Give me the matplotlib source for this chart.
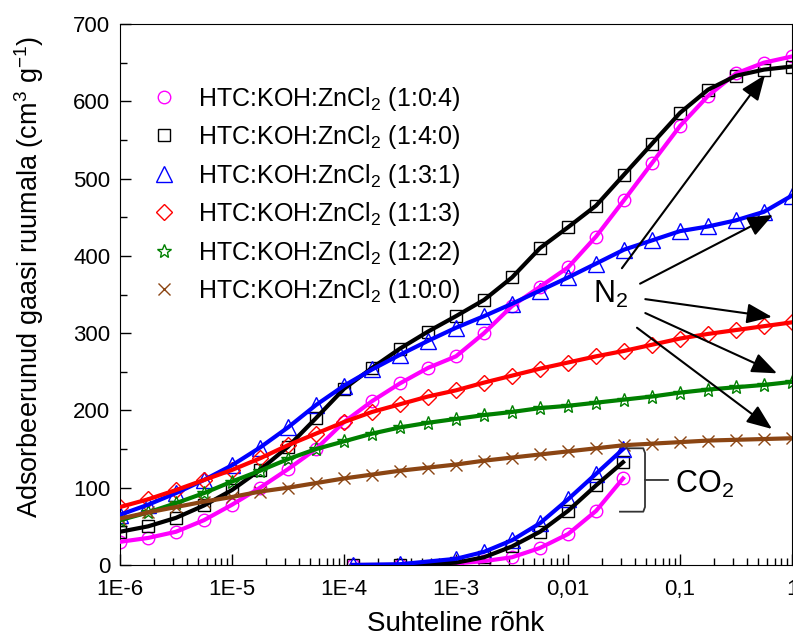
import matplotlib
matplotlib.use("Agg")
import matplotlib.pyplot as plt
from matplotlib.ticker import MultipleLocator, LogLocator, NullFormatter

plt.rcParams["font.family"] = ["Liberation Sans", "DejaVu Sans"]
plt.rcParams["mathtext.default"] = "regular"

# N2 isotermid, suhteline rohk (veerand dekaadi samm)
p_n2 = [1e-6, 1.78e-6, 3.16e-6, 5.62e-6,
        1e-5, 1.78e-5, 3.16e-5, 5.62e-5,
        1e-4, 1.78e-4, 3.16e-4, 5.62e-4,
        1e-3, 1.78e-3, 3.16e-3, 5.62e-3,
        1e-2, 1.78e-2, 3.16e-2, 5.62e-2,
        0.1, 0.178, 0.316, 0.562, 1.0]
n2_104 = [30, 35, 43, 58, 78, 100, 124, 150, 185, 212, 235, 255, 270,
          300, 335, 360, 385, 425, 472, 520, 568, 607, 636, 650, 658]
n2_140 = [43, 50, 61, 77, 97, 123, 153, 190, 228, 255, 280, 302, 322,
          343, 372, 410, 437, 465, 505, 545, 585, 615, 633, 641, 645]
n2_131 = [65, 78, 93, 110, 129, 152, 178, 207, 232, 253, 272, 290, 307,
          322, 338, 355, 372, 390, 408, 420, 432, 438, 446, 457, 478]
n2_113 = [75, 85, 97, 110, 123, 138, 155, 170, 185, 198, 208, 218, 226,
          236, 245, 254, 262, 270, 277, 285, 293, 299, 304, 309, 314]
n2_122 = [58, 68, 80, 93, 108, 122, 137, 150, 160, 170, 178, 184, 189,
          194, 198, 203, 206, 210, 214, 218, 223, 227, 230, 233, 237]
n2_100 = [60, 68, 75, 82, 88, 95, 100, 106, 112, 117, 122, 126, 130,
          135, 139, 143, 147, 151, 155, 157, 159, 161, 162, 163, 164]

# CO2 isotermid (ainult 3 proovi)
p_co2 = [1.2e-4, 3.16e-4, 1e-3, 1.78e-3, 3.16e-3, 5.62e-3, 1e-2, 1.78e-2, 3.1e-2]
co2_104 = [0, 0, 2, 5, 10, 22, 40, 70, 112]
co2_140 = [0, 0, 3, 10, 24, 43, 70, 103, 133]
co2_131 = [0, 1, 8, 17, 32, 54, 85, 118, 150]

labels = ["HTC:KOH:ZnCl$_2$ (1:0:4)", "HTC:KOH:ZnCl$_2$ (1:4:0)",
          "HTC:KOH:ZnCl$_2$ (1:3:1)", "HTC:KOH:ZnCl$_2$ (1:1:3)",
          "HTC:KOH:ZnCl$_2$ (1:2:2)", "HTC:KOH:ZnCl$_2$ (1:0:0)"]
colors = ["#ff00ff", "#000000", "#0000ff", "#ff0000", "#008000", "#8b4513"]
markers = ["o", "s", "^", "D", "*", "x"]
msizes = [9, 8, 11, 8, 10, 9]

n2_data = [n2_104, n2_140, n2_131, n2_113, n2_122, n2_100]
co2_data = {0: co2_104, 1: co2_140, 2: co2_131}

fig = plt.figure(figsize=(7.93, 6.4), dpi=100)
ax = fig.add_axes([120 / 793, 75 / 640, 672 / 793, 541 / 640])

for i in range(6):
    ax.plot(p_n2, n2_data[i], color=colors[i], lw=3, zorder=3)
    ax.plot(p_n2, n2_data[i], ls="none", marker=markers[i], ms=msizes[i],
            mfc="none", mec=colors[i], mew=1, label=labels[i], zorder=2)
    if i in co2_data:
        ax.plot(p_co2, co2_data[i], color=colors[i], lw=3, zorder=3)
        ax.plot(p_co2, co2_data[i], ls="none", marker=markers[i], ms=msizes[i],
                mfc="none", mec=colors[i], mew=1, zorder=2)

ax.set_xscale("log")
ax.set_xlim(1e-6, 1)
ax.set_ylim(0, 700)
ax.set_xticks([1e-6, 1e-5, 1e-4, 1e-3, 1e-2, 0.1, 1],
              ["1E-6", "1E-5", "1E-4", "1E-3", "0,01", "0,1", "1"])
ax.xaxis.set_minor_locator(LogLocator(base=10, subs=range(2, 10)))
ax.xaxis.set_minor_formatter(NullFormatter())
ax.yaxis.set_major_locator(MultipleLocator(100))
ax.yaxis.set_minor_locator(MultipleLocator(50))
ax.tick_params(which="both", direction="in", labelsize=16)
ax.tick_params(axis="x", pad=10)
ax.tick_params(axis="y", pad=7)
ax.tick_params(which="major", length=8, width=1)
ax.tick_params(which="minor", length=5, width=1)

ax.set_xlabel("Suhteline rõhk", fontsize=20, labelpad=8)
ax.set_ylabel("Adsorbeerunud gaasi ruumala (cm$^{3}$ g$^{-1}$)", fontsize=19.5)
ax.yaxis.set_label_coords(-0.11, 0.532)

ax.legend(loc="upper left", bbox_to_anchor=(0.047, 0.888), frameon=False,
          fontsize=18, handlelength=1.0, handletextpad=0.85, labelspacing=0.42,
          borderpad=0, borderaxespad=0)

# nooled N2 kirjest kõverate lõppu
ax.text(0.024, 350, "N$_2$", fontsize=22, ha="center", va="center")
arrow_starts = [(0.0303, 384), (0.044, 364), (0.049, 344), (0.049, 326), (0.0413, 307)]
arrow_tips = [(0.574, 634), (0.676, 453), (0.662, 321), (0.735, 248), (0.662, 176)]
for s, t in zip(arrow_starts, arrow_tips):
    ax.annotate("", xy=t, xytext=s,
                arrowprops=dict(arrowstyle="-|>,head_length=0.55,head_width=0.22",
                                color="black", lw=1.5,
                                mutation_scale=28, shrinkA=0, shrinkB=0))

# CO2 sulg
ax.plot([0.0295, 0.047, 0.0487, 0.0487, 0.078], [151, 151, 145, 110, 110],
        color="#333333", lw=1.3, clip_on=False)
ax.plot([0.0487, 0.0487, 0.047, 0.0291], [110, 75, 69, 69],
        color="#333333", lw=1.3, clip_on=False)
ax.text(0.167, 104, "CO$_2$", fontsize=22, ha="center", va="center")

fig.savefig("out.png", dpi=100)
